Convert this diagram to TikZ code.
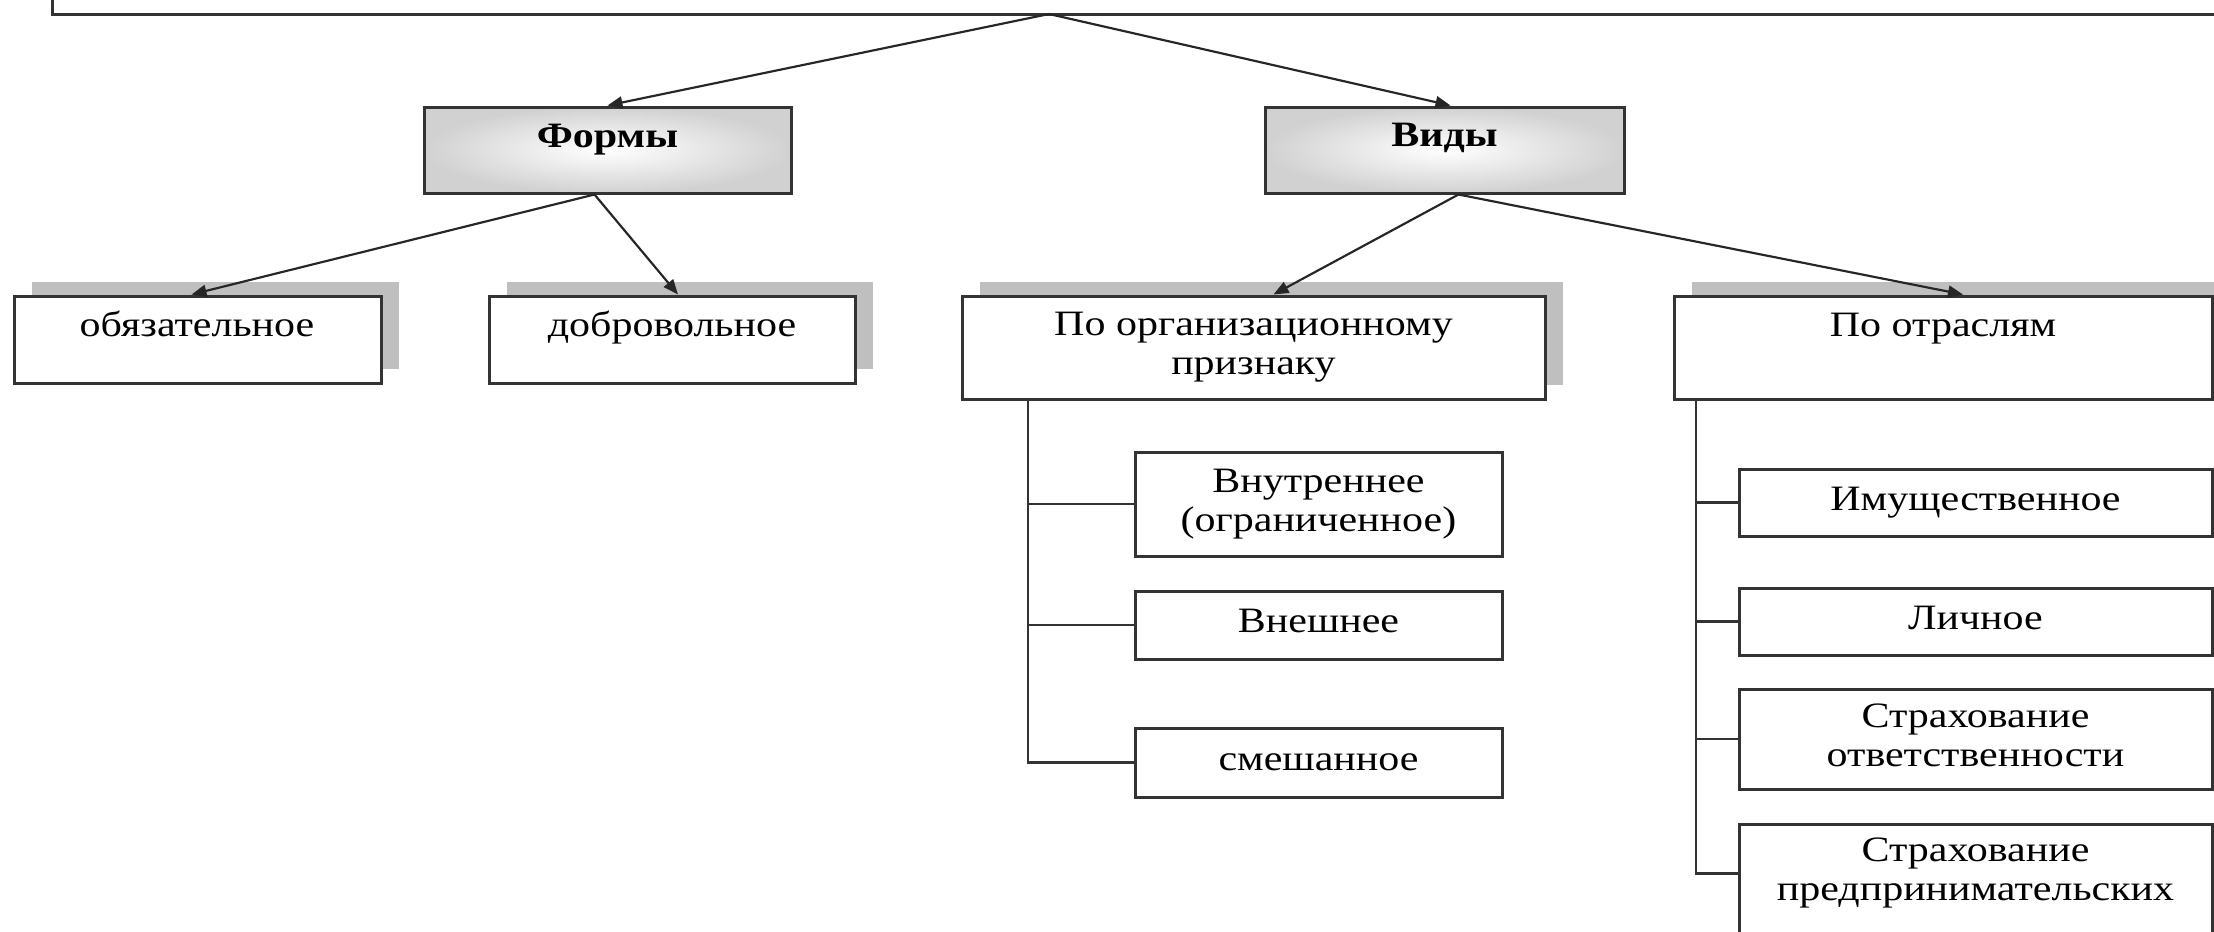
\documentclass[tikz,border=0pt]{standalone}
\usepackage{fontspec}
\setmainfont{Liberation Serif}
\usetikzlibrary{arrows.meta,calc,shadows}
\newcommand\sqtxt[1]{\scalebox{1}[0.85]{\begin{tabular}{@{}c@{}}#1\end{tabular}}}
\begin{document}
\begin{tikzpicture}[x=0.3pt,y=-0.3pt,
  wh/.style 2 args={minimum width=#1*0.3pt, minimum height=#2*0.3pt},
  box/.style={draw=black!80, line width=0.9pt, fill=white, inner sep=0pt,
    font=\fontsize{12.6}{13.8}\selectfont},
  shad/.style={drop shadow={shadow xshift=5.4pt,shadow yshift=4.2pt,fill=black!25,opacity=1}},
  head/.style={box, shading=radial, inner color=white, outer color=black!18},
  txt/.style={inner sep=0pt, font=\fontsize{12.6}{13.8}\selectfont},
  conn/.style={draw=black!85, line width=0.65pt, -{Triangle[length=4.5pt,width=3.6pt]}},
  tree/.style={draw=black!80, line width=0.7pt}]
\path[use as bounding box] (0,0) rectangle (2214,932);
\clip (0,0) rectangle (2214,932);

% top box (cut off)
\node[box, wh={2212}{74}] (top) at (1158,-23) {};

% heads
\node[head, wh={367}{86}] (forms) at (607.5,150) {};
\node[head, wh={359}{86}] (vidy) at (1444.5,150) {};
\node[txt] (forms-t) at (607.5,140) {\bfseries\sqtxt{Формы}};
\node[txt] (vidy-t) at (1444.5,139) {\bfseries\sqtxt{Виды}};

% second row
\node[box, shad, wh={367}{87}] (oblig) at (197.5,339.5) {};
\node[box, shad, wh={366}{87}] (dobr) at (672,339.5) {};
\node[box, shad, wh={583}{103}] (porg) at (1253.5,347.5) {\sqtxt{По организационному\\признаку}};
\node[box, shad, wh={538}{103}] (potr) at (1943,347.5) {};
\node[txt] (oblig-t) at (197,329) {\sqtxt{обязательное}};
\node[txt] (dobr-t) at (672,329) {\sqtxt{добровольное}};
\node[txt] (potr-t) at (1943,329) {\sqtxt{По отраслям}};

% left subtree
\node[box, wh={367}{104}] (vnutr) at (1318.5,504) {\sqtxt{Внутреннее\\(ограниченное)}};
\node[box, wh={367}{68}] (vnesh) at (1318.5,625) {\sqtxt{Внешнее}};
\node[box, wh={367}{69}] (smesh) at (1318.5,762.5) {\sqtxt{смешанное}};

% right subtree
\node[box, wh={473}{67}] (imush) at (1975.5,502.5) {\sqtxt{Имущественное}};
\node[box, wh={473}{67}] (lichn) at (1975.5,621.5) {\sqtxt{Личное}};
\node[box, wh={473}{100}] (strotv) at (1975.5,739) {\sqtxt{Страхование\\ответственности}};
\node[box, wh={473}{176}] (strpr) at (1975.5,912) {};
\node[txt] (strpr-t) at (1975.5,873.5) {\sqtxt{Страхование\\предпринимательских}};

% connectors
\coordinate (topout) at (1049,14);
\draw[conn] (topout) -- (forms.north);
\draw[conn] (topout) -- ($(vidy.north)+(6,0)$);
\draw[conn] ($(forms.south)+(-13,0)$) -- ($(oblig.north)+(-6,0)$);
\draw[conn] ($(forms.south)+(-13,0)$) -- ($(dobr.north)+(6,0)$);
\draw[conn] ($(vidy.south)+(14,0)$) -- ($(porg.north)+(20,0)$);
\draw[conn] ($(vidy.south)+(14,0)$) -- ($(potr.north)+(20,0)$);

\coordinate (trunkL) at (1028,399);
\draw[tree] (trunkL) |- (vnutr.west);
\draw[tree] (trunkL) |- (vnesh.west);
\draw[tree] (trunkL) |- (smesh.west);

\coordinate (trunkR) at (1696,399);
\draw[tree] (trunkR) |- (imush.west);
\draw[tree] (trunkR) |- (lichn.west);
\draw[tree] (trunkR) |- (strotv.west);
\draw[tree] (trunkR) |- ($(strpr.north west)+(0,51)$);
\end{tikzpicture}
\end{document}
